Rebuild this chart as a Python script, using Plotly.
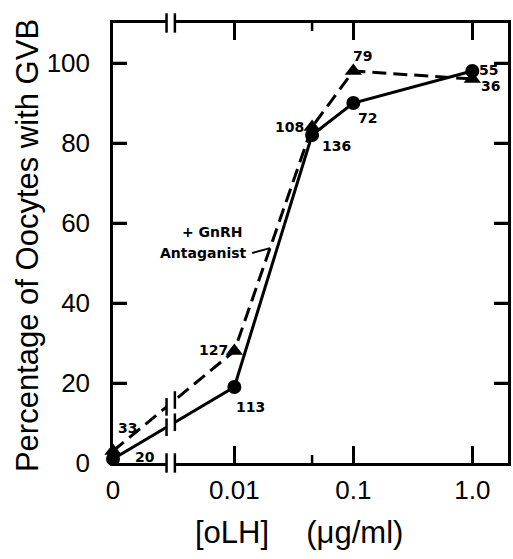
import numpy as np
import plotly.graph_objects as go

# ---- data ----
conc_labels = ["0", "0.01", "0.1", "1.0"]
conc_ticks = [0, 0.01, 0.1, 1.0]
conc = [0, 0.01, 0.045, 0.1, 1.0]             # oLH (ug/ml)
control_pct = [1, 19, 82, 90, 98]            # oLH alone (circles, solid)
control_n = [20, 113, 136, 72, 55]
antag_pct = [3, 28, 84, 98, 96]              # + GnRH antagonist (triangles, dashed)
antag_n = [33, 127, 108, 79, 36]
y_ticks = [0, 20, 40, 60, 80, 100]
minor_tick = [0.045]

# ---- style / layout helpers ----
ZERO_POS = -3.02          # where concentration 0 is drawn on the log scale
BREAK = (-2.57, -2.50)    # axis break (log units)
XR = [-3.02, 0.3]
YR = [0, 110]
W, H = 513, 559
ML, MR, MT, MB = 113, 2, 23, 96
PW, PH = W - ML - MR, H - MT - MB

def xpos(v):
    return np.array([ZERO_POS if c == 0 else np.log10(c) for c in v])

xc = xpos(conc)
xt = xpos(conc_ticks)
xm = np.log10(minor_tick)

# label offsets (px) for point counts
ctrl_off = [(32, 2), (16, -20), (24, -11), (14, -15), (16, 1)]
ant_off = [(14, 23), (-21, 1), (-23, 0), (9, 15), (18, -7)]

LBL = dict(family="DejaVu Sans", size=14, color="black", weight="bold")
AX = dict(family="Liberation Sans", size=26, color="black")

fig = go.Figure()
fig.add_trace(go.Scatter(
    x=xc, y=antag_pct, mode="lines+markers",
    line=dict(color="black", width=3, dash="14px,7px"),
    marker=dict(symbol="triangle-up", size=15, color="black"),
    showlegend=False, cliponaxis=False))
fig.add_trace(go.Scatter(
    x=xc, y=control_pct, mode="lines+markers",
    line=dict(color="black", width=3),
    marker=dict(symbol="circle", size=14, color="black"),
    showlegend=False, cliponaxis=False))

ann = []
for x, y, n, (dx, dy) in zip(xc, control_pct, control_n, ctrl_off):
    ann.append(dict(x=x, y=y, text=str(n), showarrow=False, xshift=dx, yshift=dy, font=LBL))
for x, y, n, (dx, dy) in zip(xc, antag_pct, antag_n, ant_off):
    ann.append(dict(x=x, y=y, text=str(n), showarrow=False, xshift=dx, yshift=dy, font=LBL))

ann.append(dict(x=-2.186, y=57.75, text="+ GnRH", showarrow=False, font=LBL))
ann.append(dict(x=-2.261, y=52.5, text="Antaganist", showarrow=False, font=LBL))

ann.append(dict(xref="paper", yref="paper", x=-0.218, y=0.495, textangle=-90,
                xanchor="center", yanchor="middle",
                text="Percentage of Oocytes with GVB", showarrow=False,
                font=dict(family="Liberation Sans", size=31, color="black")))
ann.append(dict(xref="paper", yref="paper", x=0.47, y=-0.157,
                xanchor="center", yanchor="middle",
                text="[oLH]\u2002\u2002\u2009(\u03bcg/ml)", showarrow=False,
                font=dict(family="Liberation Sans", size=31, color="black")))

TICK = dict(color="black", width=2.5)
shapes = []
# inward tick marks on all four sides (derived from the tick values)
for tv, ln in [(v, 17) for v in xt[1:]] + [(v, 8) for v in xm]:
    d = ln / PH
    shapes.append(dict(type="line", xref="x", yref="paper", x0=tv, x1=tv, y0=0, y1=d,
                       line=TICK, layer="above"))
    shapes.append(dict(type="line", xref="x", yref="paper", x0=tv, x1=tv, y0=1, y1=1 - d,
                       line=TICK, layer="above"))
for tv in y_ticks[1:]:
    d = 14 / PW
    shapes.append(dict(type="line", xref="paper", yref="y", x0=0, x1=d, y0=tv, y1=tv,
                       line=TICK, layer="above"))
    shapes.append(dict(type="line", xref="paper", yref="y", x0=1, x1=1 - d, y0=tv, y1=tv,
                       line=TICK, layer="above"))

# white strip creating the axis / line break
x_to_paper = lambda v: (v - XR[0]) / (XR[1] - XR[0])
shapes.append(dict(type="rect", xref="paper", yref="paper",
                   x0=x_to_paper(BREAK[0]), x1=x_to_paper(BREAK[1]),
                   y0=-0.012, y1=1.012, fillcolor="white", line=dict(width=0), layer="above"))
for bx in BREAK:
    for yc in (0, 1):
        shapes.append(dict(type="line", xref="x", yref="paper", x0=bx, x1=bx,
                           y0=yc - 0.022, y1=yc + 0.022, line=TICK, layer="above"))
    for series in (control_pct, antag_pct):
        yb = float(np.interp(bx, xc, series))
        shapes.append(dict(type="line", xref="x", yref="y", x0=bx, x1=bx,
                           y0=yb - 2.2, y1=yb + 2.2, line=TICK, layer="above"))
# leader from the annotation text to the dashed curve
lead_x0, lead_x1 = -1.85, -1.70
shapes.append(dict(type="line", xref="x", yref="y", x0=lead_x0, y0=52.5, x1=lead_x1,
                   y1=float(np.interp(lead_x1, xc, antag_pct)),
                   line=dict(color="black", width=2)))

fig.update_layout(
    width=W, height=H,
    margin=dict(l=ML, r=MR, t=MT, b=MB),
    plot_bgcolor="white", paper_bgcolor="white",
    annotations=ann, shapes=shapes,
    xaxis=dict(range=XR, tickvals=xt, ticktext=conc_labels, ticks="inside",
               ticklen=17, tickwidth=2.5, tickcolor="black",
               showline=True, linewidth=2.5, linecolor="black", mirror="ticks",
               showgrid=False, zeroline=False, tickfont=AX, ticklabelstandoff=2),
    yaxis=dict(range=YR, tickvals=y_ticks, ticks="inside", ticklen=14, tickwidth=2.5,
               tickcolor="black", showline=True, linewidth=2.5, linecolor="black",
               mirror="ticks", showgrid=False, zeroline=False, tickfont=AX,
               ticklabelstandoff=15),
)

fig.write_html("out.html", config={"displayModeBar": False},
               post_script="document.body.style.margin='0';document.body.style.overflow='hidden';")
